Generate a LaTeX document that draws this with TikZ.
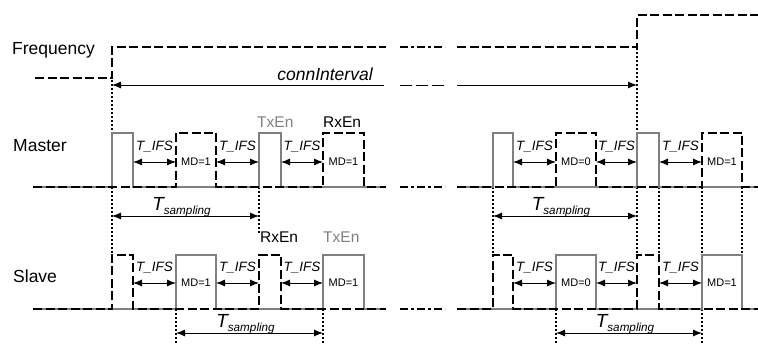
\documentclass[tikz,border=0pt]{standalone}
\usepackage{fontspec}
\setmainfont{Liberation Sans}
\usetikzlibrary{arrows.meta}

\tikzset{
  rxsig/.style={line width=2.8pt, dash pattern=on 9pt off 3.5pt},
  txsig/.style={line width=2pt, draw=gray},
  bruch/.style={line width=2.8pt, dash pattern=on 8pt off 3pt on 3pt off 3pt},
  pkt/.style={line width=2pt, dash pattern=on 2pt off 2pt},
  mass/.style={line width=0.9pt, {Latex[length=9pt,width=7pt]}-{Latex[length=9pt,width=7pt]}},
  reihe/.style={font=\fontsize{17.5}{20}\selectfont, anchor=base west, inner sep=0pt},
  ifs/.style={font=\fontsize{13.5}{15}\selectfont\itshape, anchor=base, inner sep=0pt},
  md/.style={font=\fontsize{11}{12}\selectfont, inner sep=0pt},
  en/.style={font=\fontsize{15.5}{17}\selectfont, anchor=base west, inner sep=0pt},
  tsamp/.style={font=\fontsize{19}{21}\selectfont\itshape, anchor=base, inner sep=0pt},
}
\newcommand{\Tsamp}{T\raisebox{-4pt}{\fontsize{11.7}{13}\selectfont sampling}}

\begin{document}
\begin{tikzpicture}[x=1pt, y=-1pt]
    \useasboundingbox (0,0) rectangle (758,344);
    % Beschriftung der Zeilen:
    \node[reihe] (freq) at (12,55) {Frequency};
    \node[reihe] (master) at (13,152) {Master};
    \node[reihe] (slave) at (13,283) {Slave};

    % Hilfslinien (gepunktet):
    \draw[pkt] (112,80) -- (112,133);   \draw[pkt] (112,187) -- (112,255);
    \draw[pkt] (637,48) -- (637,133);   \draw[pkt] (637,187) -- (637,255);
    \draw[pkt] (259,187) -- (259,234);
    \foreach \x in {493,659,702,742}
        \draw[pkt] (\x,187) -- (\x,255);
    \foreach \x in {176,323,556,702}
        \draw[pkt] (\x,309) -- (\x,344);

    % Frequenz:
    \draw[rxsig] (35,78) -- (112,78) -- (112,47) -- (386,47);
    \draw[bruch] (400,47) -- (445,47); % Unterbrechung
    \draw[rxsig] (457,47) -- (637,47) -- (637,15) -- (758,15);

    % connInterval:
    \node[font=\fontsize{17.5}{20}\selectfont\itshape, anchor=base, inner sep=0pt] (conn) at (325,81) {connInterval};
    \coordinate (ciA) at (112,85);  \coordinate (ciB) at (384,85);
    \coordinate (ciC) at (400,85);  \coordinate (ciD) at (447,85);
    \coordinate (ciE) at (457,85);  \coordinate (ciF) at (637,85);
    \draw[line width=0.9pt, {Latex[length=9pt,width=7pt]}-] (ciA) -- (ciB);
    \draw[line width=0.9pt, dash pattern=on 12pt off 4pt] (ciC) -- (ciD);
    \draw[line width=0.9pt, -{Latex[length=9pt,width=7pt]}] (ciE) -- (ciF);

    % Master, TxEn (grau):
    \draw[txsig] (33,187) -- (112,187) -- (112,133) -- (133,133) -- (133,187) -- (259,187) -- (259,133) -- (281,133) -- (281,187) -- (386,187);
    \draw[txsig] (457,187) -- (493,187) -- (493,133) -- (513,133) -- (513,187) -- (637,187) -- (637,133) -- (659,133) -- (659,187) -- (758,187);
    % Master, RxEn (schwarz):
    \draw[rxsig] (33,187) -- (176,187) -- (176,133) -- (216,133) -- (216,187) -- (323,187) -- (323,133) -- (364,133) -- (364,187) -- (386,187);
    \draw[bruch] (400,187) -- (445,187);
    \draw[rxsig] (457,187) -- (556,187) -- (556,133) -- (596,133) -- (596,187) -- (702,187) -- (702,133) -- (742,133) -- (742,187) -- (758,187);

    % Slave, TxEn (grau):
    \draw[txsig] (33,309) -- (176,309) -- (176,255) -- (216,255) -- (216,309) -- (323,309) -- (323,255) -- (364,255) -- (364,309) -- (386,309);
    \draw[txsig] (457,309) -- (556,309) -- (556,255) -- (596,255) -- (596,309) -- (702,309) -- (702,255) -- (742,255) -- (742,309) -- (758,309);
    % Slave, RxEn (schwarz):
    \draw[rxsig] (33,309) -- (112,309) -- (112,255) -- (133,255) -- (133,309) -- (259,309) -- (259,255) -- (281,255) -- (281,309) -- (386,309);
    \draw[bruch] (400,309) -- (445,309);
    \draw[rxsig] (457,309) -- (493,309) -- (493,255) -- (513,255) -- (513,309) -- (637,309) -- (637,255) -- (659,255) -- (659,309) -- (758,309);

    % TxEn / RxEn:
    \node[en, text=gray] (mtx) at (257,128) {TxEn};
    \node[en] (mrx) at (323,128) {RxEn};
    \node[en] (srx) at (260,243) {RxEn};
    \node[en, text=gray] (stx) at (323,243) {TxEn};

    % T_IFS Pfeile:
    \foreach \a/\b/\y/\n in {133/176/162/1, 216/259/162/2, 281/323/162/3,
                             513/556/162/4, 596/637/162/5, 659/702/162/6,
                             133/176/283/7, 216/259/283/8, 281/323/283/9,
                             513/556/283/10, 596/637/283/11, 659/702/283/12}{
        \coordinate (ifsA\n) at (\a,\y);
        \coordinate (ifsB\n) at (\b,\y);
        \draw[mass] (ifsA\n) -- (ifsB\n);
        \node[ifs] (ifs\n) at ({(\a+\b)/2},{\y-11}) {T\_IFS};
    }

    % MD-Bits:
    \foreach \a/\b/\y/\v/\n in {176/216/162/1/1, 323/364/162/1/2, 556/596/162/0/3, 702/742/162/1/4,
                                176/216/283/1/5, 323/364/283/1/6, 556/596/283/0/7, 702/742/283/1/8}
        \node[md] (md\n) at ({(\a+\b)/2},\y) {MD=\v};

    % T_sampling:
    \foreach \a/\b/\y/\n in {112/259/216/1, 493/637/216/2, 176/323/333/3, 556/702/333/4}{
        \coordinate (tsA\n) at (\a,\y);
        \coordinate (tsB\n) at (\b,\y);
        \draw[mass] (tsA\n) -- (tsB\n);
        \node[tsamp] (ts\n) at ({(\a+\b)/2-4},{\y-5}) {\Tsamp};
    }
\end{tikzpicture}
\end{document}
